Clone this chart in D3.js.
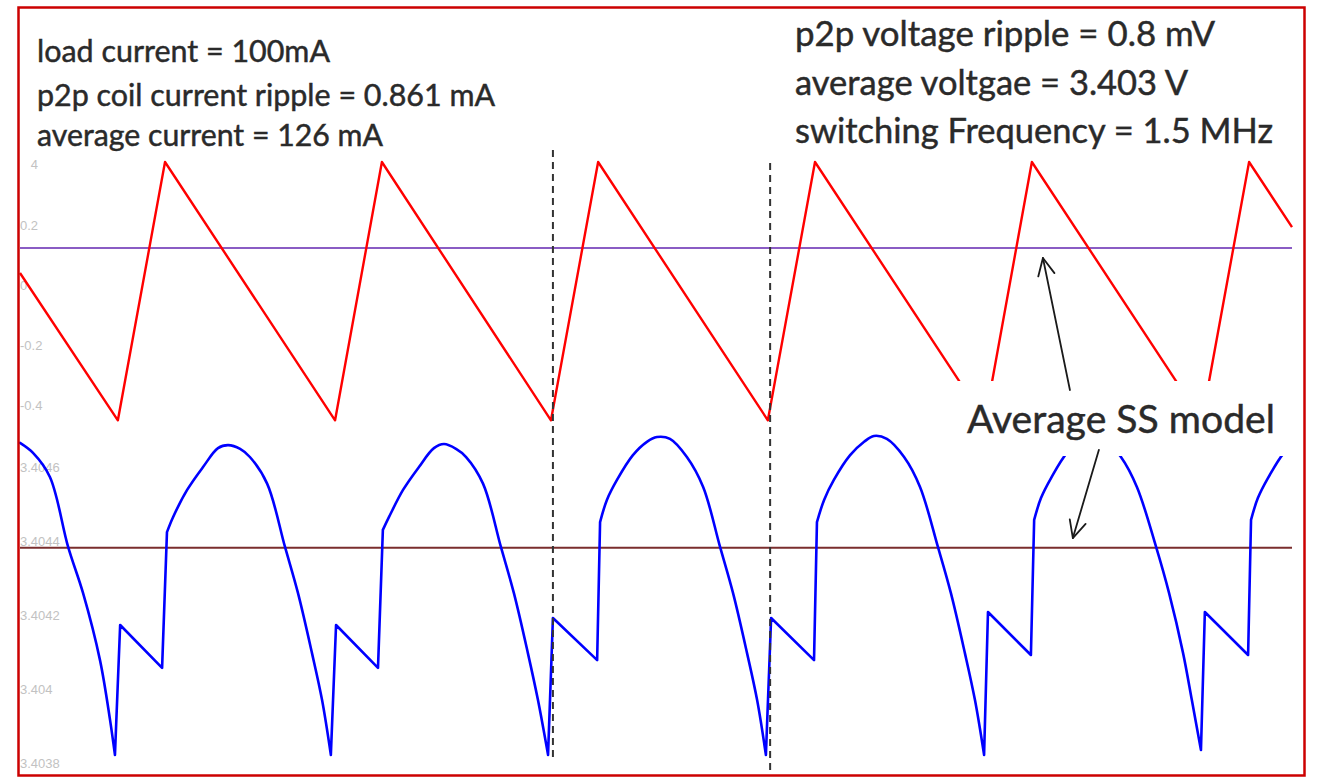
<!DOCTYPE html>
<html><head><meta charset="utf-8">
<script src="https://cdn.jsdelivr.net/npm/d3@7"></script>
<style>html,body{margin:0;padding:0;background:#fff;} svg{display:block;}</style>
</head><body>
<svg id="chart" width="1317" height="779"></svg>
<script>
// ---------------- data ----------------
// coil current (offset from average, mA) vs time (ns)
const currentTime  = [0, 301, 446, 969, 1113, 1633, 1778, 2300, 2445, 2968, 3112, 3635, 3780, 3912];
const currentValue = [0.04, -0.451, 0.41, -0.451, 0.41, -0.451, 0.41, -0.451, 0.41, -0.451, 0.41, -0.451, 0.41, 0.193];
const currentAverage = 0.123;
const currentTicks = [0.4, 0.2, 0, -0.2, -0.4];

// output voltage (V) vs time (ns)
const voltageTime = [
  0, 40, 92, 148, 194, 246, 277, 292,
  308, 437, 452, 471, 514, 563, 609, 640, 677, 707, 760, 815, 855, 898, 929, 956,
  972, 1101, 1116, 1135, 1178, 1227, 1273, 1304, 1341, 1372, 1424, 1479, 1519, 1562, 1593, 1624,
  1639, 1775, 1784, 1805, 1836, 1885, 1928, 1959, 1999, 2051, 2101, 2153, 2193, 2236, 2267, 2294,
  2310, 2442, 2451, 2473, 2503, 2553, 2596, 2626, 2666, 2719, 2768, 2823, 2863, 2906, 2937, 2965,
  2977, 3109, 3119, 3140, 3171, 3220, 3263, 3294, 3334, 3386, 3435, 3494, 3534, 3577, 3604, 3632,
  3644, 3777, 3786, 3807, 3838, 3887, 3912
];
const voltageValue = [
  3.404665, 3.404638, 3.404573, 3.404384, 3.404259, 3.404078, 3.403916, 3.403822,
  3.404173, 3.404057, 3.404424, 3.404465, 3.404538, 3.404600, 3.404651, 3.404659, 3.404649, 3.404627, 3.404555, 3.404384, 3.404259, 3.404097, 3.403970, 3.403822,
  3.404173, 3.404057, 3.404430, 3.404465, 3.404538, 3.404600, 3.404651, 3.404662, 3.404649, 3.404627, 3.404555, 3.404384, 3.404259, 3.404097, 3.403970, 3.403822,
  3.404192, 3.404078, 3.404451, 3.404511, 3.404565, 3.404632, 3.404668, 3.404681, 3.404676, 3.404627, 3.404546, 3.404384, 3.404259, 3.404097, 3.403970, 3.403822,
  3.404192, 3.404078, 3.404451, 3.404511, 3.404565, 3.404632, 3.404668, 3.404684, 3.404676, 3.404627, 3.404546, 3.404384, 3.404259, 3.404097, 3.403970, 3.403822,
  3.404208, 3.404092, 3.404457, 3.404516, 3.404570, 3.404638, 3.404670, 3.404684, 3.404676, 3.404627, 3.404546, 3.404384, 3.404259, 3.404097, 3.403970, 3.403835,
  3.404208, 3.404092, 3.404457, 3.404516, 3.404570, 3.404638, 3.404659
];
const voltageAverage = 3.404382;
const voltageTicks = [3.4046, 3.4044, 3.4042, 3.404, 3.4038];

const markerTimes = [1639, 2307];

const leftNotes  = ["load current = 100mA", "p2p coil current ripple = 0.861 mA", "average current = 126 mA"];
const rightNotes = ["p2p voltage ripple = 0.8 mV", "average voltgae = 3.403 V", "switching Frequency = 1.5 MHz"];
const annotationLabel = "Average SS model";
// arrow anchors: [time, value]
const arrowCurrent = {from: [3229, -0.35], to: [3146, 0.09]};
const arrowVoltage = {from: [3318, 3.404646], to: [3238, 3.404408]};

// ---------------- drawing ----------------
const svg = d3.select("#chart");
const W = 1317, H = 779;

const x  = d3.scaleLinear().domain([0, 3912]).range([20, 1292]);
const yI = d3.scaleLinear().domain([-0.4, 0.2]).range([405, 225]);
const yV = d3.scaleLinear().domain([3.4038, 3.4046]).range([763, 467]);

svg.append("rect").attr("width", W).attr("height", H).attr("fill", "#fff");

const defs = svg.append("defs");
defs.append("clipPath").attr("id", "topClip")
  .append("rect").attr("x", 12).attr("y", 159).attr("width", 30).attr("height", 20);

// tick labels (faint, inside plot)
const fmt = d => String(d);
const gI = svg.append("g").attr("transform", "translate(18,0)")
  .call(d3.axisRight(yI).tickValues(currentTicks).tickSize(0).tickPadding(2).tickFormat(fmt));
const gV = svg.append("g").attr("transform", "translate(18,0)")
  .call(d3.axisRight(yV).tickValues(voltageTicks).tickSize(0).tickPadding(2).tickFormat(fmt));
[gI, gV].forEach(g => {
  g.select(".domain").remove();
  g.selectAll("text").attr("fill", "#c2c2c2")
    .style("font-family", "'Liberation Sans', Arial, sans-serif").style("font-size", "13px");
});
gI.selectAll(".tick").filter(d => d === 0.4).attr("clip-path", "url(#topClip)")
  .attr("transform", null).select("text").attr("y", yI(0.4));

// average lines
svg.append("line").attr("x1", x(0)).attr("x2", x(3912))
  .attr("y1", yI(currentAverage)).attr("y2", yI(currentAverage))
  .attr("stroke", "#8a5cc4").attr("stroke-width", 2);
svg.append("line").attr("x1", x(0)).attr("x2", x(3912))
  .attr("y1", yV(voltageAverage)).attr("y2", yV(voltageAverage))
  .attr("stroke", "#7a2e2e").attr("stroke-width", 2);

// current waveform
const currentData = currentTime.map((t, i) => [t, currentValue[i]]);
svg.append("path").datum(currentData)
  .attr("d", d3.line().x(d => x(d[0])).y(d => yI(d[1])))
  .attr("fill", "none").attr("stroke", "#ff0000").attr("stroke-width", 2.4).attr("stroke-linejoin", "round");

// voltage waveform: smooth arcs between switching edges, straight edges elsewhere
const voltageData = voltageTime.map((t, i) => [t, voltageValue[i]]);
const n = voltageData.length;
const localMin = i => i > 0 && i < n - 1 && voltageValue[i] < voltageValue[i - 1] && voltageValue[i] < voltageValue[i + 1];
const segs = [];
let i0 = 0;
while (i0 < n - 1) {
  let j = i0 + 1;
  while (j < n - 1 && !localMin(j)) j++;
  segs.push({curve: true, pts: voltageData.slice(i0, j + 1)});
  if (j >= n - 1) break;
  const k = Math.min(j + 3, n - 1);
  segs.push({curve: false, pts: voltageData.slice(j, k + 1)});
  i0 = k;
}
const lineSmooth = d3.line().x(d => x(d[0])).y(d => yV(d[1])).curve(d3.curveCatmullRom.alpha(0.5));
const lineStraight = d3.line().x(d => x(d[0])).y(d => yV(d[1]));
svg.append("path")
  .attr("d", segs.map(s => (s.curve ? lineSmooth : lineStraight)(s.pts)).join(""))
  .attr("fill", "none").attr("stroke", "#0000ff").attr("stroke-width", 2.6)
  .attr("stroke-linejoin", "round").attr("stroke-linecap", "round");

// dashed markers
const markerSpans = [[150, 757], [163, 776]];
svg.selectAll(".marker").data(markerTimes).join("line").attr("class", "marker")
  .attr("x1", d => x(d)).attr("x2", d => x(d))
  .attr("y1", (d, i) => markerSpans[i][0]).attr("y2", (d, i) => markerSpans[i][1])
  .attr("stroke", "#333").attr("stroke-width", 2).attr("stroke-dasharray", "7,5");

// notes
const noteFont = "Lato, 'Open Sans', sans-serif";
const textInk = "#2a2a2a";
const leftBase = [62, 106, 146], leftLen = [293, 458, 346];
svg.selectAll(".lnote").data(leftNotes).join("text").attr("class", "lnote")
  .attr("x", 37).attr("y", (d, i) => leftBase[i])
  .attr("textLength", (d, i) => leftLen[i]).attr("lengthAdjust", "spacingAndGlyphs")
  .style("font-family", noteFont).style("font-size", "30px")
  .attr("fill", textInk).attr("stroke", textInk).attr("stroke-width", 0.45)
  .text(d => d);
const rightBase = [46, 95, 143], rightLen = [420, 393, 478];
svg.selectAll(".rnote").data(rightNotes).join("text").attr("class", "rnote")
  .attr("x", 795).attr("y", (d, i) => rightBase[i])
  .attr("textLength", (d, i) => rightLen[i]).attr("lengthAdjust", "spacingAndGlyphs")
  .style("font-family", noteFont).style("font-size", "34px")
  .attr("fill", textInk).attr("stroke", textInk).attr("stroke-width", 0.45)
  .text(d => d);

// annotation box + label
svg.append("rect").attr("x", 957).attr("y", 381).attr("width", 342).attr("height", 75).attr("fill", "#fff");
svg.append("text").attr("x", 967).attr("y", 433)
  .attr("textLength", 308).attr("lengthAdjust", "spacingAndGlyphs")
  .style("font-family", noteFont).style("font-size", "38px")
  .attr("fill", textInk).attr("stroke", textInk).attr("stroke-width", 0.45)
  .text(annotationLabel);

// arrows
function arrow(a, ys) {
  const x1 = x(a.from[0]), y1 = ys(a.from[1]), x2 = x(a.to[0]), y2 = ys(a.to[1]);
  const ang = Math.atan2(y2 - y1, x2 - x1), L = 19, h = 0.45;
  const g = svg.append("g").attr("stroke", "#1a1a1a").attr("stroke-width", 1.8).attr("fill", "none")
    .attr("stroke-linecap", "round").attr("stroke-linejoin", "round");
  g.append("line").attr("x1", x1).attr("y1", y1).attr("x2", x2).attr("y2", y2);
  g.append("path").attr("d",
    `M${x2 - L * Math.cos(ang - h)},${y2 - L * Math.sin(ang - h)}L${x2},${y2}L${x2 - L * Math.cos(ang + h)},${y2 - L * Math.sin(ang + h)}`);
}
arrow(arrowCurrent, yI);
arrow(arrowVoltage, yV);

// frame
svg.append("rect").attr("x", 18.5).attr("y", 7.5).attr("width", 1286).attr("height", 768)
  .attr("fill", "none").attr("stroke", "#cc0000").attr("stroke-width", 2.5);
</script>
</body></html>
